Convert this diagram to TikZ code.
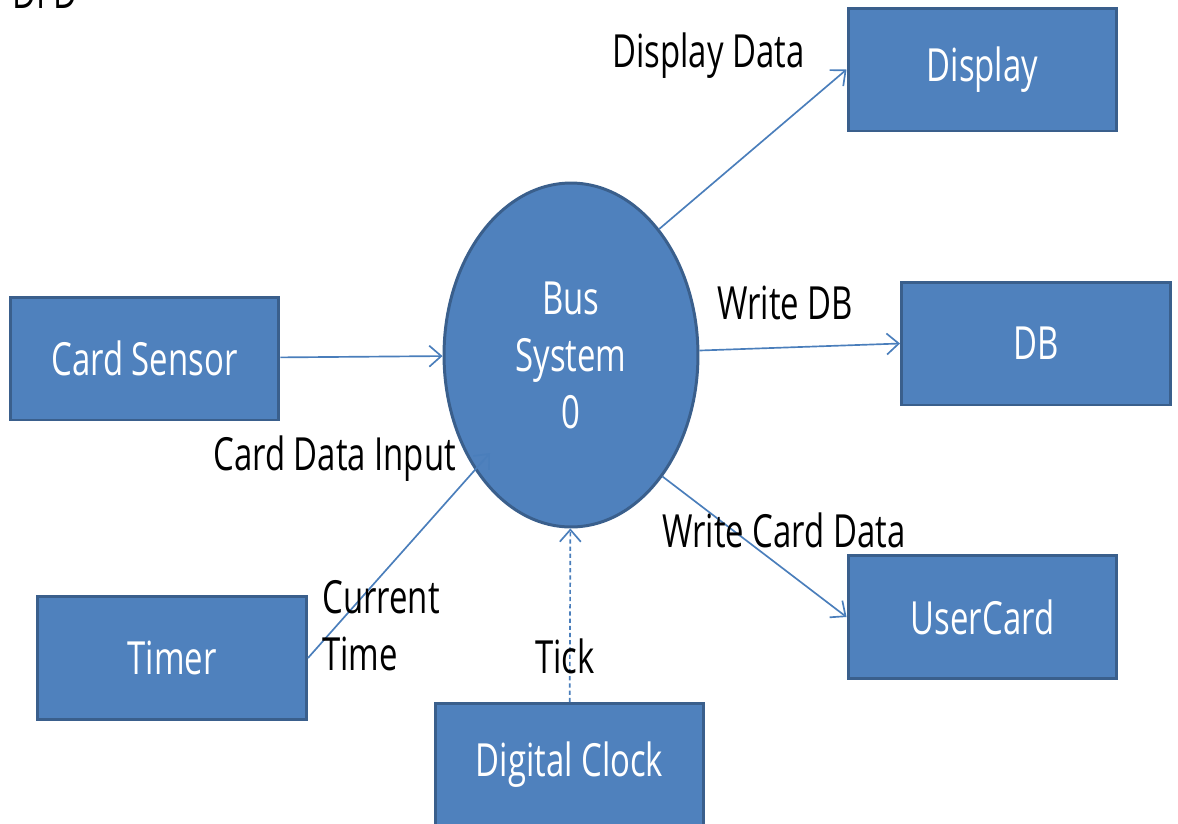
\documentclass[tikz,border=0pt]{standalone}
\usepackage{fontspec}
\setmainfont{Open Sans}[FakeStretch=0.72]
\usetikzlibrary{arrows.meta,shapes.geometric}

\definecolor{boxfill}{HTML}{4F81BD}
\definecolor{boxline}{HTML}{3A5F8C}
\definecolor{flowline}{HTML}{4A7EBB}

\begin{document}
\begin{tikzpicture}
    [x=0.02cm, y=-0.02cm,
     entity/.style={draw=boxline,fill=boxfill,line width=1.7pt,minimum width=5.38cm,
                    minimum height=2.46cm,text=white,font=\fontsize{26}{32}\selectfont},
     process/.style={ellipse,draw=boxline,fill=boxfill,line width=1.7pt,inner sep=0pt,
                     minimum width=5.08cm,minimum height=6.88cm,text=white,align=center,
                     font=\fontsize{26}{32.4}\selectfont},
     label/.style={inner sep=0pt,anchor=base west,font=\fontsize{26}{32.4}\selectfont},
     flow/.style={draw=flowline,line width=0.95pt,-{Straight Barb[length=0.24cm,width=0.42cm]}}]
    \clip (0, 0) rectangle (1178, 823);

    % Title
    \node (title) at (12, 8) [label] {DFD};

    % Process
    \node (bus) at (571, 355) [process] {Bus\\System\\0};

    % Sources
    \node (cardsensor) at (144.5, 358.5) [entity] {Card Sensor};
    \node (timer) at (172, 658) [entity] {Timer};
    \node (clock) at (569.5, 765) [entity] {Digital Clock};

    % Sinks
    \node (display) at (982.5, 69.5) [entity] {Display};
    \node (db) at (1036, 343.5) [entity] {DB};
    \node (usercard) at (982.5, 617) [entity] {UserCard};

    \coordinate (timertip) at (490, 453);

    \draw [flow] (cardsensor) -- (bus);
    \draw [flow] (timer.east) -- (timertip);
    \draw [flow, dash pattern=on 2.4pt off 1.7pt] (clock) -- (bus);
    \draw [flow] (bus.55) -- (display.west);
    \draw [flow] (bus) -- (db.west);
    \draw [flow] (bus.-53) -- (usercard.west);

    % Flow labels
    \node (cardinput) at (213, 470) [label] {Card Data Input};
    \node (curtime) at (322, 613) [label] {Current};
    \node (curtime2) at (322, 670) [label] {Time};
    \node (tick) at (535, 673) [label] {Tick};
    \node (dispdata) at (612, 67) [label] {Display Data};
    \node (writedb) at (717, 319) [label] {Write DB};
    \node (writecard) at (662, 547) [label] {Write Card Data};
\end{tikzpicture}
\end{document}
